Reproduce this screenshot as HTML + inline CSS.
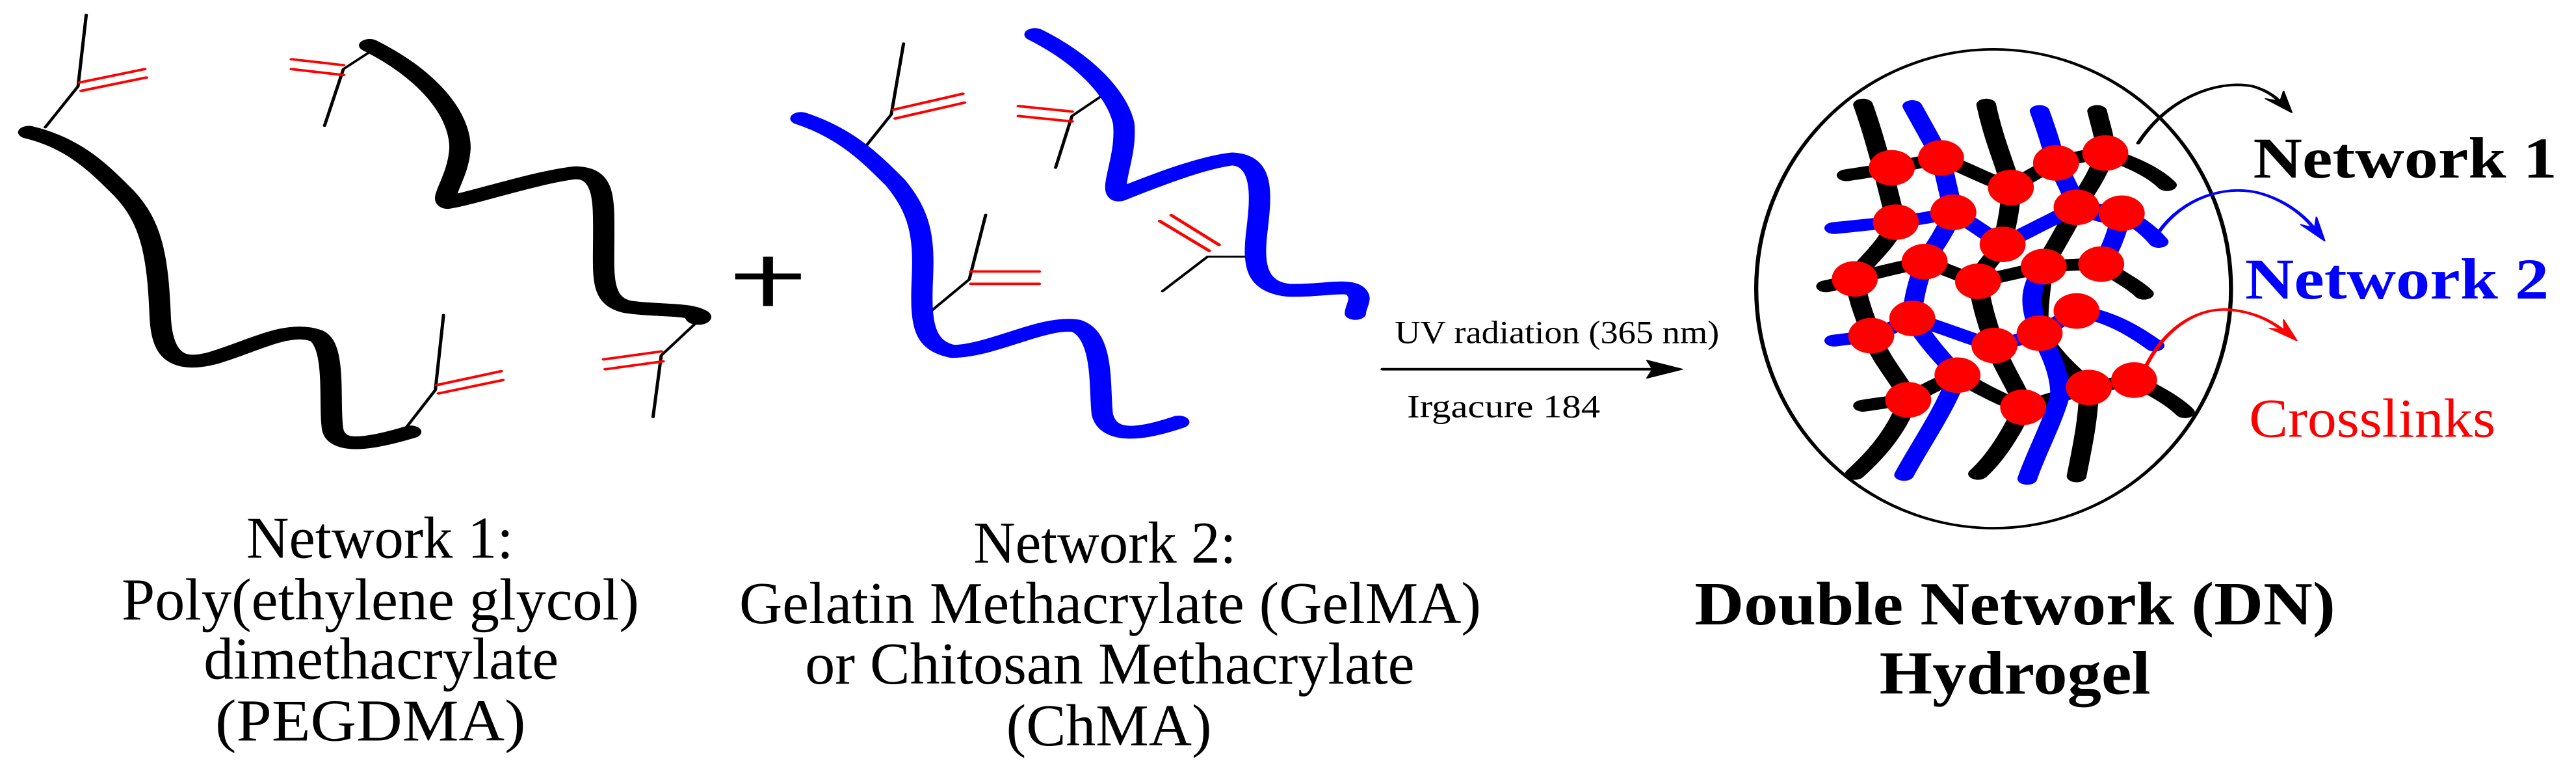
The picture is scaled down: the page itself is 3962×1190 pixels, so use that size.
<!DOCTYPE html>
<html><head><meta charset="utf-8"><style>html,body{margin:0;padding:0;background:#fff}svg{display:block}svg text{font-family:"Liberation Serif","Times New Roman",serif}</style></head>
<body>
<svg width="3962" height="1190" viewBox="0 0 3136 1568" preserveAspectRatio="none" xmlns="http://www.w3.org/2000/svg" style="font-family:'Liberation Serif',serif">
<rect width="3136" height="1568" fill="#fff"/>
<g fill="none" stroke-linecap="round" stroke-linejoin="round">
<path d="M35,268 C90,290 120,340 150,390 C185,450 192,520 195,640 C197,720 215,745 260,725 C310,700 350,660 385,680 C410,700 400,820 405,870 C410,910 450,900 500,875" stroke="#000" stroke-width="26"/>
<path d="M450,92 C520,150 560,230 560,300 C558,360 535,400 545,410 C580,400 650,360 700,350 C735,350 735,400 735,470 C735,560 730,610 765,622 C800,630 840,625 852,640" stroke="#000" stroke-width="26"/>
<circle cx="850" cy="642" r="16" fill="#000" stroke="none"/>
<g stroke="#000" stroke-width="4">
<path d="M55,258 L95,175 L105,30"/><path d="M455,100 L418,140 L395,255"/>
<path d="M495,865 L530,790 L540,638"/><path d="M850,650 L805,720 L795,845"/>
<path d="M1045,315 L1085,232 L1100,88"/><path d="M1345,190 L1305,235 L1285,340"/>
<path d="M1125,642 L1180,566 L1200,435"/><path d="M1530,520 L1470,520 L1415,590"/>
</g>
<g stroke="#f00" stroke-width="5">
<path d="M97,167 L176,140 M99,184 L178,157"/>
<path d="M355,120 L418,132 M355,140 L418,152"/>
<path d="M532,780 L610,752 M534,797 L612,770"/>
<path d="M735,728 L805,712 M737,748 L807,732"/>
<path d="M1088,222 L1172,190 M1090,240 L1174,208"/>
<path d="M1240,215 L1305,226 M1240,235 L1305,246"/>
<path d="M1182,550 L1265,550 M1182,575 L1265,575"/>
<path d="M1412,448 L1472,508 M1426,436 L1484,496"/>
</g>
<path d="M895,560 L975,560 M935,520 L935,620" stroke="#000" stroke-width="12" stroke-linecap="butt"/>
<path d="M975,240 C1030,270 1060,320 1090,370 C1120,430 1125,480 1123,560 C1120,660 1125,700 1160,712 C1210,710 1270,650 1310,660 C1345,680 1338,790 1342,840 C1350,890 1390,880 1435,855" stroke="#00f" stroke-width="26"/>
<path d="M1260,70 C1320,120 1360,190 1368,250 C1372,320 1350,380 1362,395 C1400,370 1460,330 1500,322 C1540,325 1535,400 1530,470 C1525,540 1530,580 1568,588 C1610,590 1640,575 1650,590 C1660,605 1650,620 1650,635" stroke="#00f" stroke-width="26"/>
<path d="M1683,748 L2020,748" stroke="#000" stroke-width="5"/>
<path d="M2048,748 L2005,730 L2012,748 L2005,766 Z" fill="#000" stroke="#000" stroke-width="2"/>
<ellipse cx="2427" cy="585" rx="289" ry="485" stroke="#000" stroke-width="5"/>
<g transform="translate(1568,0)">
<g stroke="#000" stroke-width="24">
<path d="M700,212 C715,280 730,380 740,450 C730,500 695,540 690,565 C695,620 705,650 710,680 C725,740 750,780 755,810 C740,880 710,930 690,960"/>
<path d="M850,212 C860,290 875,340 880,380 C880,430 872,470 870,495 C855,530 842,550 840,570 C845,630 855,670 860,700 C875,760 890,790 895,825 C880,880 860,930 840,960"/>
<path d="M985,225 C990,260 995,280 995,310 C985,360 970,390 960,420 C945,470 930,510 920,540 C915,600 912,640 915,675 C935,730 960,760 975,785 C975,850 965,920 960,965"/>
<path d="M680,355 C700,350 720,345 735,340 C760,332 780,325 795,320 C830,345 860,370 880,380 C900,360 920,340 935,330 C955,320 980,312 995,310 C1030,330 1055,350 1070,375"/>
<path d="M655,580 C670,575 680,570 690,565 C720,550 750,540 775,530 C800,545 820,560 840,570 C870,560 900,548 920,540 C945,537 970,535 990,535 C1010,560 1030,575 1042,595"/>
<path d="M700,822 C720,817 740,812 755,810 C775,790 800,770 815,760 C845,790 875,815 895,825 C925,810 955,795 975,785 C995,780 1015,774 1030,770 C1060,795 1080,815 1092,835"/>
</g>
<g stroke="#00f" stroke-width="24">
<path d="M760,215 C775,260 788,300 795,320 C800,360 806,400 810,430 C800,470 785,505 775,530 C765,580 760,615 760,645 C780,700 805,740 815,760 C800,830 770,900 750,962"/>
<path d="M915,225 C925,270 930,300 935,330 C945,360 955,395 960,420 C990,440 1010,450 1015,432"/>
<path d="M665,462 C690,458 720,452 740,450 C765,445 790,438 810,430 C835,455 855,480 870,495 C900,470 935,440 960,420 C985,425 1005,428 1015,432 C1035,450 1050,470 1060,490"/>
<path d="M665,690 C685,686 700,683 710,680 C730,668 748,655 760,645 C800,665 835,690 860,700 C885,690 905,682 915,675 C935,655 950,640 960,630 C1000,640 1030,670 1055,700"/>
<path d="M1015,432 C1005,500 995,520 990,535"/>
<path d="M920,540 C905,580 900,610 915,675 C930,720 940,760 940,800 C930,860 910,920 900,970"/>
</g>
<g fill="#f00" stroke="none">
<ellipse cx="735" cy="340" rx="28" ry="36"/><ellipse cx="795" cy="320" rx="28" ry="36"/><ellipse cx="935" cy="330" rx="28" ry="36"/><ellipse cx="995" cy="310" rx="28" ry="36"/>
<ellipse cx="880" cy="380" rx="28" ry="36"/><ellipse cx="740" cy="450" rx="28" ry="36"/><ellipse cx="810" cy="430" rx="28" ry="36"/><ellipse cx="960" cy="420" rx="28" ry="36"/>
<ellipse cx="1015" cy="432" rx="28" ry="36"/><ellipse cx="870" cy="495" rx="28" ry="36"/><ellipse cx="775" cy="530" rx="28" ry="36"/><ellipse cx="920" cy="540" rx="28" ry="36"/>
<ellipse cx="990" cy="535" rx="28" ry="36"/><ellipse cx="690" cy="565" rx="28" ry="36"/><ellipse cx="840" cy="570" rx="28" ry="36"/><ellipse cx="760" cy="645" rx="28" ry="36"/>
<ellipse cx="960" cy="630" rx="28" ry="36"/><ellipse cx="710" cy="680" rx="28" ry="36"/><ellipse cx="915" cy="675" rx="28" ry="36"/><ellipse cx="860" cy="700" rx="28" ry="36"/>
<ellipse cx="815" cy="760" rx="28" ry="36"/><ellipse cx="975" cy="785" rx="28" ry="36"/><ellipse cx="1030" cy="770" rx="28" ry="36"/><ellipse cx="755" cy="810" rx="28" ry="36"/>
<ellipse cx="895" cy="825" rx="28" ry="36"/>
</g>
<path d="M1035,290 C1070,200 1130,160 1175,175 C1195,185 1205,200 1212,215" stroke="#000" stroke-width="5"/>
<path d="M1222,228 L1190,200 L1208,205 L1212,185 Z" fill="#000" stroke="#000" stroke-width="2"/>
<path d="M1060,470 C1090,400 1140,375 1180,390 C1215,405 1240,440 1252,470" stroke="#00f" stroke-width="5"/>
<path d="M1262,488 L1233,455 L1250,462 L1252,440 Z" fill="#00f" stroke="#00f" stroke-width="2"/>
<path d="M1045,740 C1070,660 1110,620 1150,628 C1185,635 1205,660 1218,678" stroke="#f00" stroke-width="5"/>
<path d="M1228,690 L1195,665 L1213,668 L1212,648 Z" fill="#f00" stroke="#f00" stroke-width="2"/>
</g>
</g>
<g fill="#000" font-size="120">
<text x="300" y="1130" textLength="325" lengthAdjust="spacingAndGlyphs">Network 1:</text>
<text x="148" y="1255" textLength="630" lengthAdjust="spacingAndGlyphs">Poly(ethylene glycol)</text>
<text x="248" y="1375" textLength="432" lengthAdjust="spacingAndGlyphs">dimethacrylate</text>
<text x="262" y="1500" textLength="378" lengthAdjust="spacingAndGlyphs">(PEGDMA)</text>
<text x="1185" y="1140" textLength="320" lengthAdjust="spacingAndGlyphs">Network 2:</text>
<text x="900" y="1262" textLength="903" lengthAdjust="spacingAndGlyphs">Gelatin Methacrylate (GelMA)</text>
<text x="980" y="1385" textLength="742" lengthAdjust="spacingAndGlyphs">or Chitosan Methacrylate</text>
<text x="1225" y="1510" textLength="250" lengthAdjust="spacingAndGlyphs">(ChMA)</text>
</g>
<g font-size="66" fill="#000">
<text x="1698" y="695" textLength="395" lengthAdjust="spacingAndGlyphs">UV radiation (365 nm)</text>
<text x="1713" y="845" textLength="235" lengthAdjust="spacingAndGlyphs">Irgacure 184</text>
</g>
<g font-size="118" font-weight="bold">
<text x="2743" y="360" fill="#000" textLength="370" lengthAdjust="spacingAndGlyphs">Network 1</text>
<text x="2733" y="605" fill="#00f" textLength="370" lengthAdjust="spacingAndGlyphs">Network 2</text>
</g>
<text x="2738" y="885" font-size="112" fill="#f00" textLength="300" lengthAdjust="spacingAndGlyphs">Crosslinks</text>
<g font-size="125" font-weight="bold" fill="#000">
<text x="2063" y="1265" textLength="780" lengthAdjust="spacingAndGlyphs">Double Network (DN)</text>
<text x="2288" y="1405" textLength="330" lengthAdjust="spacingAndGlyphs">Hydrogel</text>
</g>
</svg>
</body></html>
